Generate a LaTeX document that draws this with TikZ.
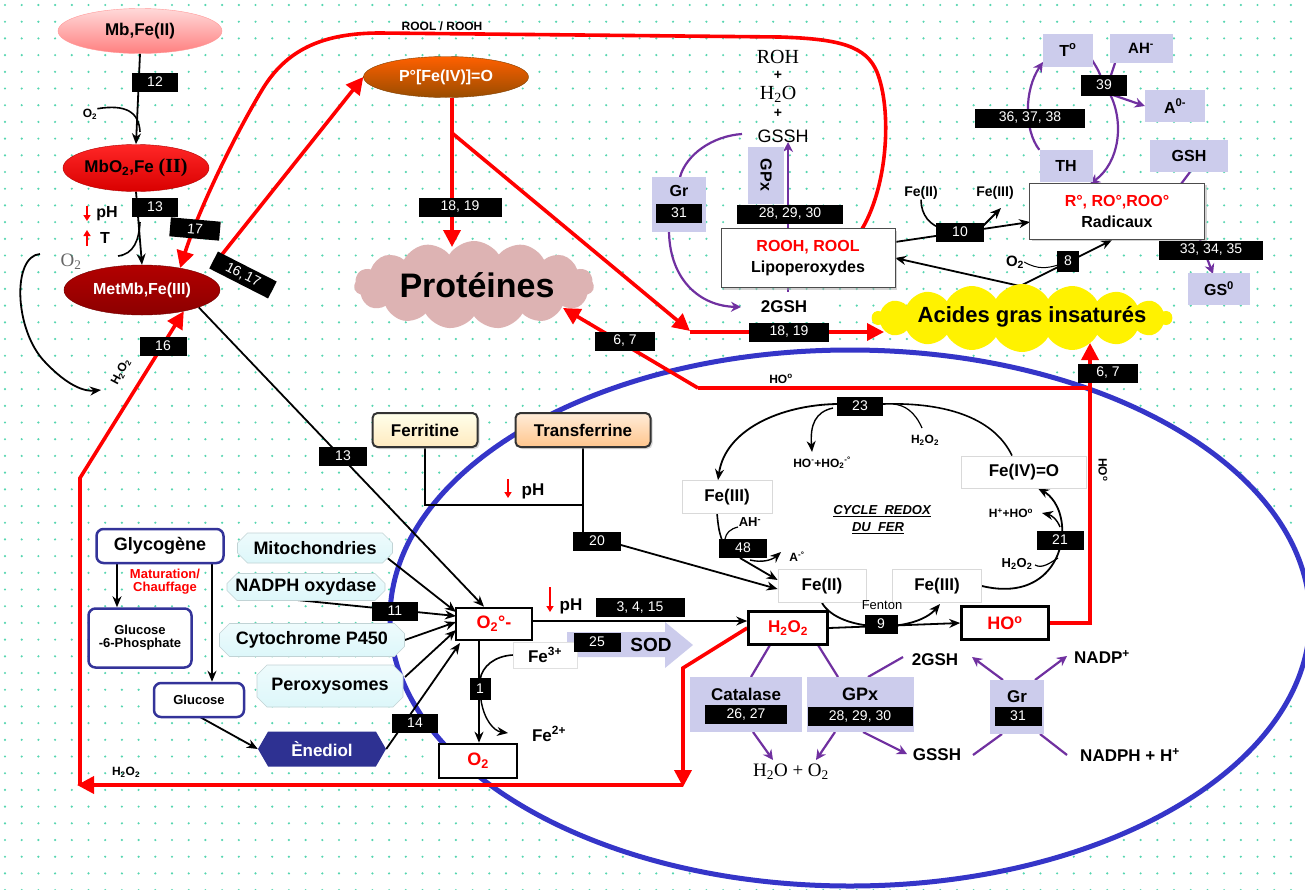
\documentclass[tikz,border=0pt]{standalone}
\usepackage{fontspec}
\setmainfont{Liberation Sans}
\newfontfamily\serifF{Liberation Serif}
\usetikzlibrary{shapes.geometric,shapes.symbols,shapes.misc,arrows.meta,shadows,calc}
\pgfdeclarelayer{bg}\pgfdeclarelayer{lines}\pgfsetlayers{bg,lines,main}
\newcommand\fsz[1]{\fontsize{#1}{#1}\selectfont}
\definecolor{dotc}{HTML}{55D6B0}
\definecolor{ellblue}{HTML}{3535C8}
\definecolor{purp}{HTML}{7030A0}
\definecolor{lav}{HTML}{CCCCEC}
\definecolor{navy}{HTML}{333399}
\definecolor{ened}{HTML}{2E3192}
\definecolor{cyanc}{HTML}{DDF7FA}
\definecolor{protc}{HTML}{DDB3B3}
\definecolor{rd}{HTML}{FF0000}
\begin{document}
\begin{tikzpicture}[x=1pt,y=-1pt,
 nb/.style={fill=black,text=white,font=\fsz{14},inner sep=0pt,minimum height=19pt},
 ell/.style={ellipse,inner sep=0pt,font=\fsz{17}\bfseries},
 wbox/.style={rectangle,fill=white,draw=black,line width=2.6pt,inner sep=0pt,font=\fsz{18}\bfseries\color{rd}},
 tbox/.style={rectangle,fill=white,draw=black!70,line width=1pt,inner sep=0pt,align=center,font=\fsz{16}\bfseries,drop shadow={shadow xshift=2pt,shadow yshift=-2pt,fill=black!35}},
 lbox/.style={rectangle,fill=lav,inner sep=0pt,font=\fsz{16}\bfseries},
 fbox/.style={rectangle,fill=white,draw=black!15,line width=0.8pt,inner sep=0pt,font=\fsz{17}\bfseries},
 cbox/.style={chamfered rectangle,chamfered rectangle xsep=5pt,chamfered rectangle ysep=5pt,top color=cyanc!50!white,bottom color=cyanc,draw=cyanc!70!gray,line width=0.6pt,inner sep=0pt,font=\fsz{18}\bfseries},
 gbox/.style={rectangle,rounded corners=7pt,draw=navy,line width=2.5pt,fill=white,inner sep=0pt,align=center,font=\bfseries},
 txt/.style={inner sep=0pt,font=\fsz{16}\bfseries},
 ka/.style={draw=black,line width=1.8pt,-{Stealth[length=11pt,width=9pt]}},
 kl/.style={draw=black,line width=1.6pt},
 rl/.style={draw=rd,line width=3.6pt},
 ra/.style={draw=rd,line width=3.6pt,-{Triangle[length=17pt,width=17pt]}},
 pa/.style={draw=purp,line width=2.2pt,-{Stealth[length=10pt,width=10pt]}},
 pl/.style={draw=purp,line width=2.2pt},
 pharr/.style={draw=rd,line width=1.6pt,-{Triangle[length=6pt,width=7pt]}}
]
\useasboundingbox (0,0) rectangle (1305,889);
\begin{pgfonlayer}{bg}
\fill[white] (0,0) rectangle (1305,889);
\foreach \i in {0,...,78}{\foreach \j in {0,...,53}{\fill[dotc] ({5+\i*16.7},{5+\j*16.7}) circle (1.2pt);}}
\filldraw[fill=white,draw=ellblue,line width=5pt] (850,618) ellipse (460pt and 268pt);
\end{pgfonlayer}

% ---------- left column ----------
\node[ell,minimum width=164pt,minimum height=45pt,top color=red!15,bottom color=red!50!white,draw=red!40] (mb) at (140,31) {Mb,Fe(II)};
\node[ell,minimum width=146pt,minimum height=47pt,top color=red!85!white,bottom color=red!85!black,draw=red!70!black] (mbo2) at (136,168) {MbO\textsubscript{2},Fe {\serifF\bfseries\fsz{20}(II)}};
\node[ell,minimum width=156pt,minimum height=50pt,top color=red!70!black,bottom color=red!55!black,draw=red!45!black,text=white,font=\fsz{16}\bfseries] (metmb) at (142,290) {MetMb,Fe(III)};
\node[ell,minimum width=165pt,minimum height=41pt,top color=orange!75!red,bottom color=orange!60!black,draw=orange!50!black,text=white,font=\fsz{16}\bfseries] (pfe) at (446,77) {P°[Fe(IV)]=O};

\node[txt,font=\fsz{12}\bfseries] (o2a) at (90,114) {O\textsubscript{2}};
\node[txt] (ph1) at (107,214) {pH};
\node[txt] (t1) at (105,238) {T};
\node[txt,font=\fsz{19}\serifF,text=black!60] (o2g) at (71,262) {O\textsubscript{2}};
\node[txt,font=\fsz{12}\bfseries,rotate=62] (h2o2r) at (121,372) {H\textsubscript{2}O\textsubscript{2}};
\node[txt,font=\fsz{12}\bfseries] (h2o2b) at (126,772) {H\textsubscript{2}O\textsubscript{2}};
\node[txt,font=\fsz{12}\bfseries] (roolt) at (442,26) {ROOL / ROOH};

% ---------- clouds ----------
\node[cloud,cloud puffs=15,cloud puff arc=115,aspect=2.7,minimum width=240pt,minimum height=88pt,fill=protc,draw=none,inner sep=0pt] (prot) at (474,285) {};
\node[txt,font=\fsz{34}\bfseries] (protT) at (477,285) {Protéines};
\node[cloud,cloud puffs=18,cloud puff arc=120,aspect=4.4,minimum width=300pt,minimum height=68pt,fill=yellow,draw=none,inner sep=0pt] (acid) at (1022,318) {};
\node[txt,font=\fsz{22}\bfseries] (acidT) at (1032,317) {Acides gras insaturés};

% ---------- lipoperoxydes / radicaux ----------
\node[tbox,minimum width=174pt,minimum height=59pt] (lipo) at (808,258) {\textcolor{rd}{ROOH, ROOL}\\[5pt]Lipoperoxydes};
\node[tbox,minimum width=175pt,minimum height=56pt] (rad) at (1117,211) {\textcolor{rd}{R°, RO°,ROO°}\\[5pt]Radicaux};
\node[txt,font=\fsz{20}\serifF] (roh) at (778,57) {ROH};
\node[txt,font=\fsz{14}\bfseries] (pl1) at (778,75) {+};
\node[txt,font=\fsz{20}\serifF] (h2ot) at (778,94) {H\textsubscript{2}O};
\node[txt,font=\fsz{14}\bfseries] (pl2) at (778,113) {+};
\node[txt,font=\fsz{18}] (gssht) at (783,136) {GSSH};
\node[lbox,rotate=-90,minimum width=57pt,minimum height=36pt] (gpx1) at (766,175) {GPx};
\node[lbox,minimum width=54pt,minimum height=55pt] (gr1) at (679,204) {};
\node[txt] (gr1t) at (679,191) {Gr};
\node[rectangle,fill=white,inner sep=0pt,minimum width=83pt,minimum height=30pt,font=\fsz{17}\bfseries] (gsh2a) at (784,307) {2GSH};
\node[txt,font=\fsz{14}\bfseries] (fe2t) at (921,193) {Fe(II)};
\node[txt,font=\fsz{14}\bfseries] (fe3t) at (995,193) {Fe(III)};
\node[txt,font=\fsz{15}\bfseries] (o2c) at (1015,262) {O\textsubscript{2}};

\node[lbox,minimum width=50pt,minimum height=33pt] (tdeg) at (1068,50) {T\textsuperscript{o}};
\node[lbox,minimum width=63pt,minimum height=29pt,font=\fsz{15}\bfseries] (ah) at (1141,48) {AH\textsuperscript{-}};
\node[lbox,minimum width=60pt,minimum height=32pt] (adeg) at (1175,106) {A\textsuperscript{0-}};
\node[lbox,minimum width=53pt,minimum height=32pt] (th) at (1066,166) {TH};
\node[lbox,minimum width=78pt,minimum height=32pt] (gsh) at (1189,156) {GSH};
\node[lbox,minimum width=62pt,minimum height=32pt] (gs0) at (1219,289) {GS\textsuperscript{0}};

% ---------- middle ----------
\node[rectangle,rounded corners=5pt,top color=yellow!8,bottom color=yellow!35!orange!25,draw=black!80,line width=2pt,inner sep=0pt,minimum width=105pt,minimum height=34pt,font=\fsz{17}\bfseries,drop shadow={shadow xshift=2pt,shadow yshift=-2pt,fill=black!30}] (ferr) at (425,430) {Ferritine};
\node[rectangle,rounded corners=5pt,top color=orange!15,bottom color=orange!45,draw=black!80,line width=2pt,inner sep=0pt,minimum width=135pt,minimum height=34pt,font=\fsz{17}\bfseries,drop shadow={shadow xshift=2pt,shadow yshift=-2pt,fill=black!30}] (trans) at (583,430) {Transferrine};
\node[txt,font=\fsz{17}\bfseries] (ph2) at (533,491) {pH};

\node[gbox,minimum width=127pt,minimum height=34pt,font=\fsz{18}\bfseries] (glyco) at (160,546) {Glycogène};
\node[rectangle,fill=white,inner sep=2pt,align=center,text=rd,font=\fsz{13}\bfseries] (matur) at (165,582) {Maturation/\\Chauffage};
\node[gbox,minimum width=103pt,minimum height=59pt,font=\fsz{13}\bfseries] (g6p) at (140,638) {Glucose\\-6-Phosphate};
\node[gbox,minimum width=90pt,minimum height=34pt,font=\fsz{13}\bfseries] (gluc) at (199,700) {Glucose};
\node[signal,signal to=west and east,signal pointer angle=120,fill=ened,text=white,inner sep=0pt,minimum width=128pt,minimum height=35pt,font=\fsz{17}\bfseries] (ened) at (322,749) {Ènediol};

\node[cbox,minimum width=155pt,minimum height=30pt] (mito) at (315,548) {Mitochondries};
\node[cbox,minimum width=158pt,minimum height=27pt] (nadph) at (306,587) {NADPH oxydase};
\node[cbox,minimum width=185pt,minimum height=33pt] (cyto) at (312,640) {Cytochrome P450};
\node[cbox,minimum width=146pt,minimum height=42pt] (perox) at (330,686) {Peroxysomes};

\node[wbox,minimum width=76pt,minimum height=32pt] (o2m) at (494,624) {O\textsubscript{2}°-};
\node[wbox,minimum width=79pt,minimum height=33pt,font=\fsz{17}\bfseries\color{rd}] (h2o2) at (788,628) {H\textsubscript{2}O\textsubscript{2}};
\node[wbox,minimum width=87pt,minimum height=33pt] (hoc) at (1005,623) {HO\textsuperscript{o}};
\node[wbox,minimum width=78pt,minimum height=34pt] (o2b) at (478,761) {O\textsubscript{2}};
\node[txt,font=\fsz{17}\bfseries] (ph3) at (571,606) {pH};

\fill[lav] (567,632) -- (665,632) -- (665,622) -- (693,645) -- (665,668) -- (665,657) -- (567,657) -- cycle;
\node[txt,font=\fsz{19}\bfseries] (sod) at (651,645) {SOD};
\node[rectangle,fill=white,draw=black!12,inner sep=0pt,minimum width=64pt,minimum height=26pt,font=\fsz{17}\bfseries] (fe3lab) at (545,655) {Fe\textsuperscript{3+}};
\node[txt,font=\fsz{17}\bfseries] (fe2lab) at (549,734) {Fe\textsuperscript{2+}};

% ---------- iron cycle ----------
\node[fbox,minimum width=90pt,minimum height=33pt] (fe3a) at (727,497) {Fe(III)};
\node[fbox,minimum width=88pt,minimum height=33pt] (fe2) at (822,586) {Fe(II)};
\node[fbox,minimum width=89pt,minimum height=33pt] (fe3b) at (937,586) {Fe(III)};
\node[fbox,minimum width=125pt,minimum height=32pt] (fe4) at (1024,472) {Fe(IV)=O};
\node[txt,font=\fsz{12}\bfseries] (h2o2c) at (925,440) {H\textsubscript{2}O\textsubscript{2}};
\node[txt,font=\fsz{12}\bfseries] (hoho) at (822,463) {HO\textsuperscript{-}+HO\textsubscript{2}\textsuperscript{-°}};
\node[txt,font=\fsz{13}\bfseries\itshape] (cyc1) at (882,511) {\underline{CYCLE\ \ REDOX}};
\node[txt,font=\fsz{13}\bfseries\itshape] (cyc2) at (878,528) {\underline{DU\ \ FER}};
\node[txt,font=\fsz{13}\bfseries] (ahc) at (750,522) {AH\textsuperscript{-}};
\node[txt,font=\fsz{12}\bfseries] (ac) at (797,557) {A\textsuperscript{-°}};
\node[txt,font=\fsz{13}] (fent) at (882,605) {Fenton};
\node[txt,font=\fsz{12}\bfseries] (hho) at (1011,513) {H\textsuperscript{+}+HO\textsuperscript{o}};
\node[txt,font=\fsz{13}\bfseries] (h2o2d) at (1017,564) {H\textsubscript{2}O\textsubscript{2}};
\node[txt,font=\fsz{12}\bfseries] (hol) at (781,379) {HO\textsuperscript{o}};
\node[txt,font=\fsz{12}\bfseries,rotate=-90] (holr) at (1103,470) {HO\textsuperscript{o}};

% ---------- enzymes ----------
\node[lbox,minimum width=112pt,minimum height=55pt] (cat) at (746,704) {};
\node[txt,font=\fsz{17}\bfseries] (catt) at (746,694) {Catalase};
\node[lbox,minimum width=107pt,minimum height=55pt] (gpx2) at (860,704) {};
\node[txt,font=\fsz{18}\bfseries] (gpx2t) at (860,694) {GPx};
\node[lbox,minimum width=54pt,minimum height=54pt] (gr2) at (1017,707) {};
\node[txt,font=\fsz{17}\bfseries] (gr2t) at (1017,697) {Gr};
\node[txt,font=\fsz{19}\serifF] (h2oo2) at (791,772) {H\textsubscript{2}O + O\textsubscript{2}};
\node[txt,font=\fsz{17}\bfseries] (gsh2b) at (935,660) {2GSH};
\node[txt,font=\fsz{17}\bfseries] (gsshb) at (937,755) {GSSH};
\node[txt,font=\fsz{17}\bfseries] (nadp) at (1102,657) {NADP\textsuperscript{+}};
\node[txt,font=\fsz{17}\bfseries] (nadph2) at (1130,755) {NADPH + H\textsuperscript{+}};

% ---------- connectors ----------
\begin{pgfonlayer}{lines}
% red
\draw[ra] (862,229) .. controls (888,185) and (892,110) .. (877,72) .. controls (866,46) and (840,39) .. (780,37) -- (380,33) .. controls (322,33) and (286,50) .. (262,90) .. controls (232,140) and (198,212) .. (metmb.30);
\coordinate (s1617) at (216,262);
\draw[ra] (s1617) -- (pfe.west);
\draw[ra] (452,98) -- (452,247);
\draw[ra] (452,133) -- (690,331);
\draw[ra] (690,332) -- (884,332);
\draw[rl] (hoc.east) -- (1090,623) -- (1090,388) -- (698,388);
\draw[ra] (698,388) -- (563,308);
\draw[ra] (1090,388) -- (1090,343);
\draw[ra] (h2o2.west) -- (683,668) -- (683,787);
\draw[ra] (683,785) -- (77,785);
\draw[ra] (80,785) -- (80,478) -- (metmb.333);
% black left
\draw[ka] (mb.south) -- (mbo2.north);
\draw[kl] (o2a.north east) .. controls (126,104) and (139,112) .. (140,132);
\draw[ka] (mbo2.south) -- (metmb.north);
\draw[kl] (118,256) .. controls (134,254) and (139,240) .. (140,222);
\draw[ka] (40,254) .. controls (12,256) and (14,330) .. (45,362) .. controls (62,380) and (80,392) .. (101,390);
\draw[pharr] (87,206) -- (87,221);
\draw[pharr] (87,246) -- (87,230);
% to O2 radical
\draw[ka] (metmb.343) -- ($(o2m.north)+(-10,0)$);
\draw[ka] (mito.south east) -- (456,612);
\draw[ka] (297,600) -- (456,616);
\draw[ka] (cyto.east) -- (456,622);
\draw[ka] (405,677) -- (456,630);
\draw[ka] (ened.east) -- (460,643);
\draw[ka] (117,563) -- (g6p.north -| 117,0);
\draw[ka] (212,563) -- (gluc.north -| 212,0);
\draw[ka] (200,717) -- (ened.west);
\draw[kl,line width=2pt] (ferr.south) -- (425,505) -- (583,505);
\draw[kl,line width=2pt] (trans.south) -- (583,532);
\draw[pharr] (508,479) -- (508,498);
\draw[pharr] (550,587) -- (550,612);
\draw[ka] (621,545) -- ($(fe2.west)+(0,3)$);
\draw[ka,line width=1.5pt] (532,621) -- ($(h2o2.west)+(0,-7)$);
\draw[ka] (479,640) -- (o2b.north -| 479,0);
\draw[kl] (fe3lab.west) .. controls (495,656) and (482,666) .. (480,680);
\draw[ka,line width=1.4pt] (481,700) .. controls (484,720) and (494,731) .. (508,733);
% iron cycle
\draw[ka] (h2o2.east) -- (hoc.west);
\draw[ka] (822,603) .. controls (840,633) and (915,633) .. (940,604);
\draw[kl] (fe4.north -| 1012,0) .. controls (995,420) and (950,402) .. (883,404);
\draw[ka] (837,404) .. controls (780,405) and (725,430) .. (fe3a.north -| 718,0);
\draw[ka,line width=1.4pt] (833,408) .. controls (815,412) and (810,425) .. (812,452);
\draw[kl,line width=1.2pt] (922,428) .. controls (915,412) and (905,405) .. (893,404);
\draw[kl] (717,513) .. controls (718,525) and (719,532) .. (722,540);
\draw[kl,line width=1.2pt] (738,527) .. controls (730,529) and (726,533) .. (725,539);
\draw[ka,line width=1.4pt] (750,560) .. controls (762,563) and (772,560) .. (781,552);
\draw[ka] (740,558) -- ($(fe2.west)+(0,-6)$);
\draw[ka] (fe3b.east) .. controls (1040,600) and (1065,560) .. (1062,525) .. controls (1060,505) and (1050,495) .. (fe4.south -| 1038,0);
\draw[ka,line width=1.4pt] (1060,527) .. controls (1057,519) and (1051,515) .. (1042,513);
\draw[kl,line width=1.2pt] (1035,565) .. controls (1042,569) and (1050,563) .. (1058,558);
% lipo / radicaux
\draw[ka] (895,242) -- (1030,222);
\draw[kl] (fe2t.south) .. controls (921,215) and (930,226) .. (944,229);
\draw[ka] (983,226) -- (1001,208);
\draw[ka] (1020,286) -- (1112,240);
\draw[ka] (1020,286) -- (895,258);
\draw[kl,line width=1pt] (o2c.east) .. controls (1038,270) and (1048,268) .. (1058,265);
% purple
\draw[pa] (788,293) -- (788,142);
\draw[pl] (742,134) .. controls (712,136) and (686,155) .. (680,177);
\draw[pa] (669,232) .. controls (670,280) and (700,306) .. (741,307);
\draw[pa] (th.north west) .. controls (1024,130) and (1024,90) .. (1043,62);
\draw[pl] (1092,60) .. controls (1097,68) and (1100,73) .. (1101,78);
\draw[pl] (1115,63) -- (1110,78);
\draw[pa] (1110,94) -- (adeg.west);
\draw[pa] (1110,94) .. controls (1124,122) and (1120,162) .. (1090,184);
\draw[pl] (1190,172) -- (1181,184);
\draw[pa] (1200,240) -- (1213,274);
\draw[pl] (770,645) -- (751,677);
\draw[pl] (818,645) -- (838,677);
\draw[pa] (753,732) -- (773,760);
\draw[pa] (835,732) -- (816,760);
\draw[pl] (868,677) -- (903,657);
\draw[pa] (863,732) -- (907,754);
\draw[pa] (1003,680) -- (972,657);
\draw[pa] (1035,680) -- (1067,656);
\draw[pl] (973,755) -- (1002,734);
\draw[pl] (1040,734) -- (1067,755);
\end{pgfonlayer}

% ---------- number boxes ----------
\node[nb,minimum width=46pt] (n12) at (155,82) {12};
\node[nb,minimum width=46pt] (n13a) at (155,207) {13};
\node[nb,minimum width=50pt,rotate=-5] (n17) at (195,229) {17};
\node[nb,minimum width=66pt,rotate=-27] (n1617) at (243,275) {16,\,17};
\node[nb,minimum width=47pt] (n16) at (163,346) {16};
\node[nb,minimum width=48pt] (n13b) at (343,456) {13};
\node[nb,minimum width=83pt] (n1819a) at (460,207) {18, 19};
\node[nb,minimum width=60pt] (n67a) at (625,341) {6, 7};
\node[nb,minimum width=80pt] (n1819b) at (789,332) {18, 19};
\node[nb,minimum width=60pt] (n67b) at (1108,373) {6, 7};
\node[nb,minimum width=106pt] (n282930a) at (790,214) {28, 29, 30};
\node[nb,minimum width=46pt] (n31a) at (679,213) {31};
\node[nb,minimum width=48pt] (n10) at (960,232) {10};
\node[nb,minimum width=22pt,minimum height=21pt] (n8) at (1068,261) {8};
\node[nb,minimum width=110pt] (n363738) at (1030,118) {36, 37, 38};
\node[nb,minimum width=46pt,minimum height=21pt] (n39) at (1104,85) {39};
\node[nb,minimum width=104pt] (n333435) at (1211,250) {33, 34, 35};
\node[nb,minimum width=46pt] (n23) at (860,406) {23};
\node[nb,minimum width=48pt] (n48) at (743,548) {48};
\node[nb,minimum width=47pt] (n21) at (1060,540) {21};
\node[nb,minimum width=33pt] (n9) at (881,624) {9};
\node[nb,minimum width=89pt] (n3415) at (640,607) {3, 4, 15};
\node[nb,minimum width=47pt] (n25) at (597,642) {25};
\node[nb,minimum width=21pt,minimum height=22pt] (n1) at (480,689) {1};
\node[nb,minimum width=46pt] (n11) at (395,611) {11};
\node[nb,minimum width=46pt] (n14) at (415,723) {14};
\node[nb,minimum width=48pt] (n20) at (597,541) {20};
\node[nb,minimum width=82pt] (n2627) at (746,714) {26, 27};
\node[nb,minimum width=105pt] (n282930b) at (860,716) {28, 29, 30};
\node[nb,minimum width=47pt] (n31b) at (1018,716) {31};
\end{tikzpicture}
\end{document}
